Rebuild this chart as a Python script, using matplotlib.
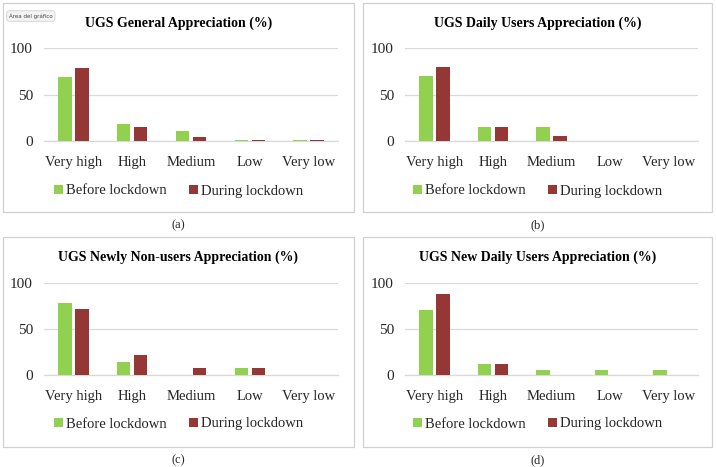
import matplotlib.pyplot as plt
import numpy as np
from matplotlib.patches import Rectangle

plt.rcParams['font.family'] = ['Liberation Serif', 'DejaVu Serif']

categories = ['Very high', 'High', 'Medium', 'Low', 'Very low']
titles = ['UGS General Appreciation (%)',
          'UGS Daily Users Appreciation (%)',
          'UGS Newly Non-users Appreciation (%)',
          'UGS New Daily Users Appreciation (%)']
captions = ['(a)', '(b)', '(c)', '(d)']

before_a = [69, 18.3, 10.8, 1.0, 0.7]
during_a = [78.5, 15.4, 4.3, 1.0, 0.7]
before_b = [70, 15, 15, 0, 0]
during_b = [80, 15, 5, 0, 0]
before_c = [78.6, 14.3, 0, 7.1, 0]
during_c = [71.4, 21.4, 7.1, 7.1, 0]
before_d = [70.6, 11.8, 5.9, 5.9, 5.9]
during_d = [88.2, 11.8, 0, 0, 0]

series = [(before_a, during_a), (before_b, during_b),
          (before_c, during_c), (before_d, during_d)]

green = '#92D050'
red = '#953735'
grid = '#D9D9D9'
txt = '#262626'

W, H = 716, 467
fig = plt.figure(figsize=(W / 100, H / 100), dpi=100)

# axes boxes in pixels: left, right, top(100 line), bottom(0 line)
axes_px = [(44, 338, 48, 141), (405, 698, 48, 141),
           (44, 338, 283, 375), (405, 698, 283, 375)]
# border boxes in pixels: x0, x1, y0, y1
border_px = [(3, 354, 3, 212), (363, 712, 3, 212),
             (3, 354, 237, 447), (363, 712, 237, 447)]
title_y = [23, 23, 257, 257]
legend_y = [191, 191, 424, 424]
caption_y = [225, 225, 460, 460]

x = np.arange(len(categories))
bw = 0.23
off = 0.145

for i in range(4):
    bx0, bx1, by0, by1 = border_px[i]
    cx = (bx0 + bx1) / 2 / W
    fig.patches.append(Rectangle((bx0 / W, 1 - by1 / H), (bx1 - bx0) / W, (by1 - by0) / H,
                                 transform=fig.transFigure, fill=False,
                                 edgecolor='#D0D0D0', linewidth=0.9))
    l, r, t, b = axes_px[i]
    ax = fig.add_axes([l / W, 1 - b / H, (r - l) / W, (b - t) / H])
    bef, dur = series[i]
    ax.bar(x - off, bef, bw, color=green, label='Before lockdown', zorder=3)
    ax.bar(x + off, dur, bw, color=red, label='During lockdown', zorder=3)
    ax.set_xlim(-0.5, 4.5)
    ax.set_ylim(0, 100)
    ax.set_yticks([0, 50, 100])
    ax.yaxis.grid(True, color=grid, linewidth=0.9, zorder=0)
    ax.set_axisbelow(True)
    for s in ['top', 'right', 'left']:
        ax.spines[s].set_visible(False)
    ax.spines['bottom'].set_color(grid)
    ax.spines['bottom'].set_linewidth(0.9)
    ax.tick_params(length=0, labelsize=10.5, colors=txt)
    ax.tick_params(axis='x', pad=11)
    ax.tick_params(axis='y', pad=8, labelsize=11)
    ax.set_xticks(x)
    ax.set_xticklabels(categories)
    fig.text(cx, 1 - title_y[i] / H, titles[i], ha='center', va='center',
             fontsize=10, fontweight='bold', color='black')
    ax.legend(loc='center', bbox_to_anchor=(cx, 1 - legend_y[i] / H),
              bbox_transform=fig.transFigure, ncol=2, frameon=False,
              fontsize=10.5, handlelength=0.65, handleheight=0.65, handletextpad=0.2,
              columnspacing=1.5, labelcolor=txt)
    fig.text(cx, 1 - caption_y[i] / H, captions[i],
             ha='center', va='center', fontsize=9, color=txt)

fig.text(9 / W, 1 - 16 / H, 'Área del gráfico', fontsize=4, color='#444444',
         family='DejaVu Sans', va='center',
         bbox=dict(boxstyle='round,pad=0.4', fc='#F4F4F4', ec='#C8C8C8', lw=0.5))

fig.savefig('out.png', dpi=100)
